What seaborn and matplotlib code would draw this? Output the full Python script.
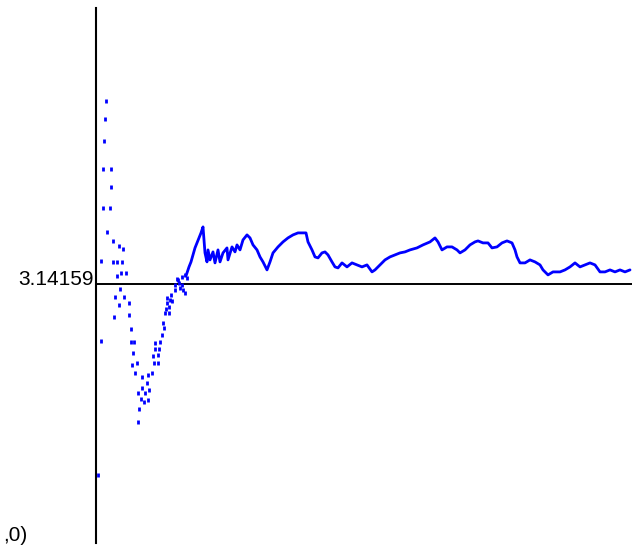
import numpy as np
import pandas as pd
import seaborn as sns
import matplotlib.pyplot as plt
import matplotlib as mpl
from matplotlib.transforms import blended_transform_factory
mpl.use('Agg')
#=====================================================
# running estimate of pi
PI_LABEL = "3.14159"
PI_REF = 3.14159
ORIGIN_LABEL = ",0)"

# early, sparse samples (shown as single dots)
early_n = [2, 5, 5, 7, 7, 8, 9, 10, 11, 14, 15, 15, 17, 17, 18, 19, 21, 21, 23, 23,
           24, 25, 26, 27, 28, 30, 33, 33, 35, 35, 38, 37, 36, 41, 39, 46, 52, 56, 46, 51,
           42, 49, 53, 45, 48, 52, 43, 42, 58, 62, 57, 62, 59, 63, 59, 64, 66, 67, 69, 73,
           70, 73, 71, 76, 71, 75, 79, 79, 82, 83, 86, 86, 87, 89, 89, 91, 74, 68, 84, 81]
early_est = [2.378, 3.234, 2.914, 3.602, 3.446, 3.714, 3.802, 3.874, 3.350, 3.446,
             3.602, 3.530, 3.314, 3.230, 3.010, 3.090, 3.230, 3.174, 3.294, 3.058,
             3.122, 3.186, 3.230, 3.282, 3.090, 3.186, 3.066, 3.018, 2.962, 2.910,
             2.910, 2.866, 2.818, 2.826, 2.786, 2.770, 2.778, 2.786, 2.726, 2.746,
             2.706, 2.706, 2.718, 2.682, 2.670, 2.678, 2.642, 2.590, 2.826, 2.826,
             2.854, 2.858, 2.882, 2.882, 2.906, 2.910, 2.938, 2.986, 3.026, 3.026,
             3.042, 3.050, 3.066, 3.074, 3.086, 3.098, 3.118, 3.138, 3.158, 3.146,
             3.170, 3.138, 3.118, 3.106, 3.178, 3.166, 3.078, 2.966, 3.126, 3.162]

# later, dense samples (they run together into a line)
late_n = [90, 92, 93, 95, 97, 99, 101, 103, 105, 107,
          109, 111, 112, 114, 117, 119, 122, 124, 127, 131,
          132, 136, 139, 141, 144, 147, 151, 154, 157, 161,
          164, 167, 171, 174, 177, 182, 187, 192, 197, 202,
          207, 210, 212, 216, 219, 222, 226, 229, 232, 236,
          239, 242, 246, 251, 256, 261, 266, 271, 276, 279,
          284, 289, 294, 299, 304, 309, 314, 321, 327, 334,
          339, 342, 346, 351, 356, 361, 364, 369, 374, 379,
          382, 387, 392, 396, 401, 406, 411, 416, 419, 421,
          424, 429, 434, 439, 444, 447, 452, 457, 464, 469,
          474, 479, 484, 489, 494, 499, 504, 509, 514, 519,
          524, 529, 534]
late_est = [3.174, 3.198, 3.210, 3.230, 3.258, 3.286, 3.306, 3.326, 3.346, 3.370,
            3.266, 3.230, 3.278, 3.238, 3.270, 3.226, 3.278, 3.230, 3.266, 3.286,
            3.238, 3.290, 3.270, 3.298, 3.278, 3.318, 3.338, 3.326, 3.298, 3.278,
            3.250, 3.230, 3.198, 3.230, 3.266, 3.290, 3.310, 3.326, 3.338, 3.346,
            3.346, 3.346, 3.310, 3.278, 3.250, 3.246, 3.266, 3.270, 3.258, 3.230,
            3.210, 3.206, 3.226, 3.210, 3.226, 3.218, 3.210, 3.218, 3.190, 3.198,
            3.218, 3.238, 3.250, 3.258, 3.266, 3.270, 3.278, 3.286, 3.298, 3.310,
            3.326, 3.310, 3.278, 3.290, 3.290, 3.278, 3.266, 3.278, 3.298, 3.310,
            3.314, 3.306, 3.306, 3.286, 3.290, 3.306, 3.314, 3.306, 3.278, 3.250,
            3.226, 3.226, 3.238, 3.230, 3.218, 3.198, 3.178, 3.190, 3.190, 3.198,
            3.210, 3.226, 3.210, 3.218, 3.226, 3.218, 3.190, 3.190, 3.198, 3.190,
            3.198, 3.190, 3.198]
#=====================================================
df_early = pd.DataFrame({'n': early_n, 'est': early_est})
df_late = pd.DataFrame({'n': late_n, 'est': late_est})

sns.set_style("white")
plt.rcParams['font.family'] = ['Liberation Sans', 'DejaVu Sans']

W, H = 634, 555
fig = plt.figure(figsize=(W / 100, H / 100), dpi=100)
ax = fig.add_axes([96 / W, 12 / H, (632 - 96) / W, (543 - 8) / H])
ax.patch.set_alpha(0)

blue = '#0000ff'
sns.scatterplot(ax=ax, data=df_early, x='n', y='est', marker='|', s=10,
                color=blue, linewidths=2.0, zorder=3)
sns.lineplot(ax=ax, data=df_late, x='n', y='est', color=blue, lw=2.0,
             estimator=None, sort=False, zorder=3)

ax.axhline(PI_REF, color='black', lw=1.4, zorder=2)

ax.set_xlim(0, 536)
ax.set_ylim(2.1056, 4.2456)
ax.set_xticks([])
ax.set_yticks([])
ax.set_xlabel("")
ax.set_ylabel("")
sns.despine(ax=ax, top=True, right=True, bottom=True, left=False)
ax.spines['left'].set_color('black')
ax.spines['left'].set_linewidth(1.5)

trans = blended_transform_factory(ax.transAxes, ax.transData)
ax.annotate(PI_LABEL, xy=(0, PI_REF), xycoords=trans, xytext=(-1.5, -1),
            textcoords='offset points', ha='right', va='baseline',
            fontsize=15, color='black')
fig.text(3 / W, 14 / H, ORIGIN_LABEL, ha='left', va='baseline',
         fontsize=15, color='black')

plt.savefig('out.png', dpi=100)
